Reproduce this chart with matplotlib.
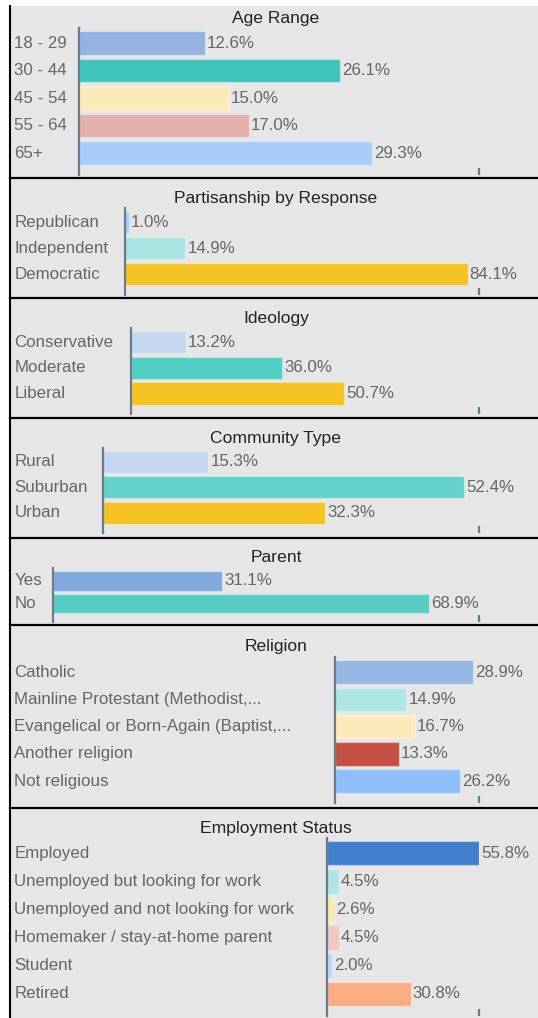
import matplotlib
matplotlib.use("Agg")
import matplotlib.pyplot as plt
from matplotlib import transforms
from matplotlib.patches import Rectangle

plt.rcParams['font.family'] = ['Liberation Sans', 'DejaVu Sans']

# Respondent breakdowns (percent)
age_labels = ['18 - 29', '30 - 44', '45 - 54', '55 - 64', '65+']
age_values = [12.6, 26.1, 15.0, 17.0, 29.3]

party_labels = ['Republican', 'Independent', 'Democratic']
party_values = [1.0, 14.9, 84.1]

ideology_labels = ['Conservative', 'Moderate', 'Liberal']
ideology_values = [13.2, 36.0, 50.7]

community_labels = ['Rural', 'Suburban', 'Urban']
community_values = [15.3, 52.4, 32.3]

parent_labels = ['Yes', 'No']
parent_values = [31.1, 68.9]

religion_labels = ['Catholic', 'Mainline Protestant (Methodist,...',
                   'Evangelical or Born-Again (Baptist,...',
                   'Another religion', 'Not religious']
religion_values = [28.9, 14.9, 16.7, 13.3, 26.2]

employment_labels = ['Employed', 'Unemployed but looking for work',
                     'Unemployed and not looking for work',
                     'Homemaker / stay-at-home parent', 'Student', 'Retired']
employment_values = [55.8, 4.5, 2.6, 4.5, 2.0, 30.8]

# bar colours per block
age_colors = ['#93b4e3', '#3ec4bc', '#fcebb9', '#e4b0ab', '#a9cdfb']
party_colors = ['#a9cdfb', '#a8e4e1', '#f4c223']
ideology_colors = ['#c6d8f0', '#52cec4', '#f4c223']
community_colors = ['#c6d8f0', '#62d2ca', '#f4c223']
parent_colors = ['#80a9de', '#57cdc5']
religion_colors = ['#96b6e3', '#aee6e3', '#fcebb9', '#c44f42', '#8dbffa']
employment_colors = ['#3f7fcd', '#aee6e3', '#fce9a8', '#f2c8c4', '#b8d7fb', '#fcad84']

W, H = 538, 1018
AXIS_COLOR = '#6b7b8c'
TEXT_GRAY = '#666666'
FS = 12.2
TITLE_FS = 12.6
AXIS_RIGHT = 479

fig = plt.figure(figsize=(W / 100, H / 100), dpi=100, facecolor='white')

# page background, panel frame and separators (pixel coordinates)
bg = fig.add_axes([0, 0, 1, 1])
bg.set_xlim(0, W)
bg.set_ylim(H, 0)
bg.axis('off')
bg.add_patch(Rectangle((10, 6), W - 10, H - 6, facecolor='#e6e6e6', edgecolor='none'))
bg.plot([9.5, 9.5], [6, H], color='black', lw=1.5)
for y in [178, 298, 418, 538, 625, 808]:
    bg.plot([9.5, W], [y, y], color='black', lw=1.6)


def px_axes(left, top, right, bottom):
    return fig.add_axes([left / W, 1 - bottom / H, (right - left) / W, (bottom - top) / H])


# title, labels, values, colours, axes top/bottom/left in px, x max
panels = [
    ('Age Range', age_labels, age_values, age_colors, 28, 175, 79, 40.0),
    ('Partisanship by Response', party_labels, party_values, party_colors, 208, 295, 124.5, 86.9),
    ('Ideology', ideology_labels, ideology_values, ideology_colors, 328, 414, 130.5, 82.7),
    ('Community Type', community_labels, community_values, community_colors, 448, 533, 103, 54.6),
    ('Parent', parent_labels, parent_values, parent_colors, 568, 622, 52.5, 78.1),
    ('Religion', religion_labels, religion_values, religion_colors, 657, 803, 335, 30.1),
    ('Employment Status', employment_labels, employment_values, employment_colors, 838, 1016, 326.5, 55.8),
]

for title, labels, values, colors, top, bottom, left, xmax in panels:
    ax = px_axes(left, top, AXIS_RIGHT, bottom)
    ax.patch.set_alpha(0)
    n = len(values)
    ypos = list(range(n))
    ax.barh(ypos, values, height=0.86, color=colors,
            edgecolor=(1, 1, 1, 0.35), linewidth=1)
    ax.set_xlim(0, xmax)
    ax.set_ylim(n - 0.2, -0.55)
    for side in ['top', 'right', 'bottom']:
        ax.spines[side].set_visible(False)
    ax.spines['left'].set_color(AXIS_COLOR)
    ax.spines['left'].set_linewidth(1.6)
    ax.set_yticks([])
    ax.set_xticks([xmax])
    ax.set_xticklabels([''])
    ax.tick_params(axis='x', direction='in', length=5, width=1.6, color=AXIS_COLOR)

    label_tf = transforms.blended_transform_factory(fig.transFigure, ax.transData)
    for i, (lab, v) in enumerate(zip(labels, values)):
        ax.text(14.5 / W, i, lab, transform=label_tf, ha='left', va='center',
                color=TEXT_GRAY, fontsize=FS)
        ax.annotate(f'{v:.1f}%', xy=(v, i), xytext=(1.5, 0), textcoords='offset points',
                    ha='left', va='center', color=TEXT_GRAY, fontsize=FS,
                    annotation_clip=False)

    fig.text(276 / W, 1 - (top - 10) / H, title, ha='center', va='center',
             color='#222222', fontsize=TITLE_FS)

fig.savefig('out.png', dpi=100, facecolor='white')
